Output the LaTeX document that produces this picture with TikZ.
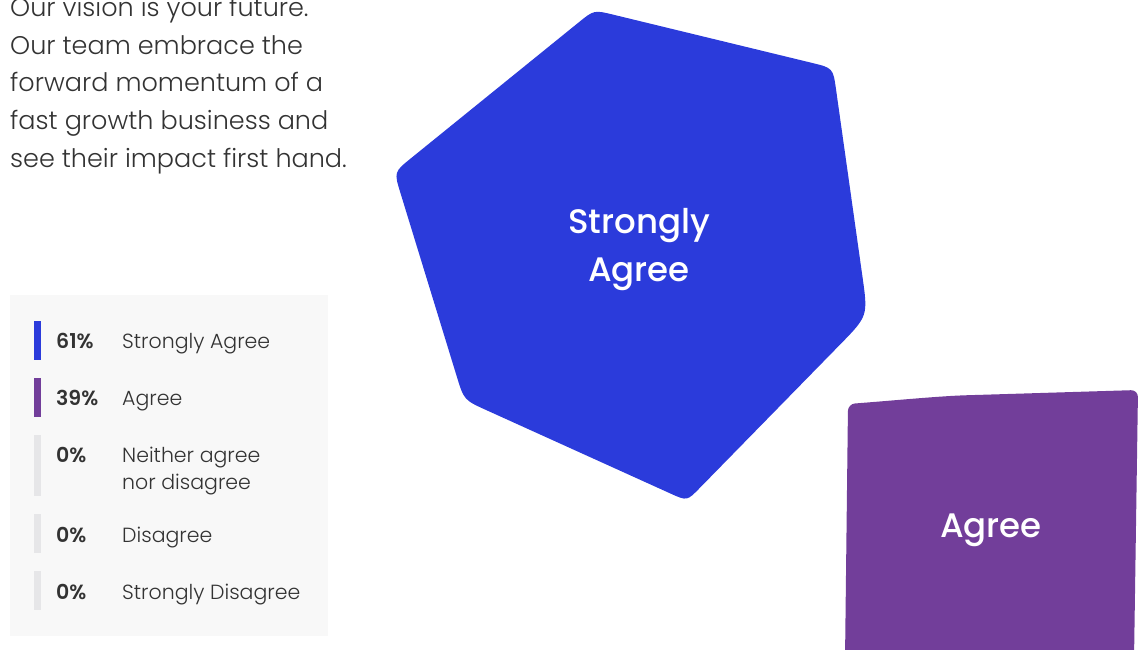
\documentclass[tikz,border=0pt]{standalone}
\usepackage{fontspec}
\usetikzlibrary{calc}
\setmainfont{Poppins}[UprightFont={* Light},BoldFont={* SemiBold}]
\newfontfamily\medf{Poppins}[UprightFont={* Medium}]
\definecolor{sablue}{HTML}{2B3BDB}
\definecolor{agpurple}{HTML}{723E9A}
\definecolor{zerogrey}{HTML}{E6E6E8}
\definecolor{panelbg}{HTML}{F8F8F8}
\definecolor{txt}{HTML}{333333}
\tikzset{
  para/.style={anchor=base west, inner sep=0pt, text=txt, align=left, font=\fontsize{25.5}{37.5}\selectfont},
  pct/.style={anchor=base west, inner sep=0pt, text=txt, font=\fontsize{20.5}{27}\selectfont\bfseries},
  lbl/.style={anchor=base west, inner sep=0pt, text=txt, align=left, font=\fontsize{20.5}{27}\selectfont},
  legbar/.style={fill=#1, draw=none},
  blobtext/.style={text=white, align=center, inner sep=0pt, font=\medf\fontsize{34}{48}\selectfont},
}
\begin{document}
\begin{tikzpicture}[x=1pt,y=-1pt]
\useasboundingbox (0,0) rectangle (1140,650);
% paragraph
\node[para] (intro) at (10,167) {Our vision is your future.\\Our team embrace the\\forward momentum of a\\fast growth business and\\see their impact first hand.};
% legend panel
\fill[panelbg] (10,295) rectangle (328,636);
\fill[legbar=sablue] (34,321) rectangle (41,360);
\fill[legbar=agpurple] (34,378) rectangle (41,417);
\fill[legbar=zerogrey] (34,435) rectangle (41,496);
\fill[legbar=zerogrey] (34,514) rectangle (41,553);
\fill[legbar=zerogrey] (34,571) rectangle (41,610);
\node[pct] (p1) at (56,348) {61\%};
\node[lbl] (l1) at (122,348) {Strongly Agree};
\node[pct] (p2) at (56,405) {39\%};
\node[lbl] (l2) at (122,405) {Agree};
\node[pct] (p3) at (56,462) {0\%};
\node[lbl] (l3) at (122,489) {Neither agree\\nor disagree};
\node[pct] (p4) at (56,542) {0\%};
\node[lbl] (l4) at (122,542) {Disagree};
\node[pct] (p5) at (56,599) {0\%};
\node[lbl] (l5) at (122,599) {Strongly Disagree};
% blue blob
\coordinate (A) at (594,10);
\coordinate (B) at (833,68);
\coordinate (C) at (868,316);
\coordinate (D) at (687,501);
\coordinate (E) at (464,400);
\coordinate (F) at (394,172);
\fill[sablue]
  ($(A)!20pt!(F)$) .. controls (A) .. ($(A)!20pt!(B)$)
  -- ($(B)!22pt!(A)$) .. controls (B) .. ($(B)!22pt!(C)$)
  -- ($(C)!40pt!(B)$) .. controls (C) .. ($(C)!40pt!(D)$)
  -- ($(D)!18pt!(C)$) .. controls (D) .. ($(D)!18pt!(E)$)
  -- ($(E)!25pt!(D)$) .. controls (E) .. ($(E)!25pt!(F)$)
  -- ($(F)!22pt!(E)$) .. controls (F) .. ($(F)!22pt!(A)$)
  -- cycle;
\node[blobtext] (sa) at (639,250) {Strongly\\Agree};
% purple shape
\fill[agpurple, rounded corners=7pt] (845,660) -- (848,404) .. controls (900,400) and (940,396) .. (975,395) -- (1138,390) -- (1134,660) -- cycle;
\node[blobtext] (ag) at (991,530) {Agree};
\end{tikzpicture}
\end{document}
